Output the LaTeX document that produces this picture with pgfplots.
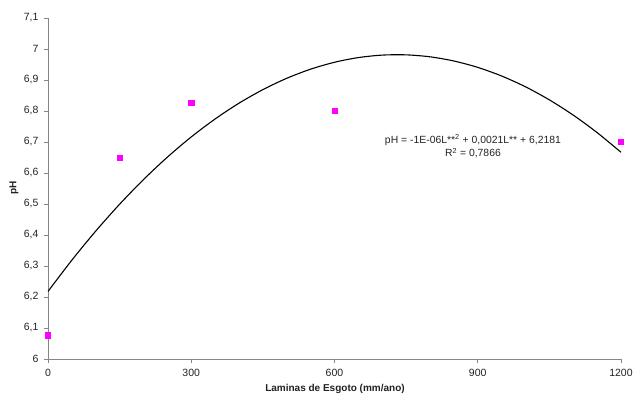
\documentclass[border=0pt]{standalone}
\usepackage{pgfplots}
\pgfplotsset{compat=1.18}
\usepackage{fontspec}
\setmainfont{Liberation Sans}
\definecolor{axgray}{HTML}{868686}
\definecolor{txt}{HTML}{222222}
\definecolor{mag}{RGB}{255,0,255}
\begin{document}
\begin{tikzpicture}[x=1pt,y=1pt]
\useasboundingbox (0,0) rectangle (633,396);
\begin{axis}[
  at={(48pt,37pt)}, anchor=origin,
  scale only axis, width=573pt, height=341pt,
  xmin=0, xmax=1200, ymin=6, ymax=7.1,
  axis x line=bottom, axis y line=left,
  axis line style={-, draw=axgray, line width=0.9pt},
  xtick={0,300,600,900,1200},
  ytick={6,6.1,6.2,6.3,6.4,6.5,6.6,6.7,6.8,6.9,7,7.1},
  yticklabels={6,{6,1},{6,2},{6,3},{6,4},{6,5},{6,6},{6,7},{6,8},{6,9},7,{7,1}},
  /pgf/number format/assume math mode=true,
  /pgf/number format/1000 sep={},
  tick style={draw=axgray, line width=0.8pt},
  tick align=outside, major tick length=4pt,
  ticklabel style={font=\fontsize{10.5}{12}\selectfont, text=txt},
  xticklabel style={yshift=-3pt},
  yticklabel style={xshift=-2pt},
  clip=false,
]
\addplot[black, line width=1.1pt, smooth] coordinates {
(0,6.2180) (50,6.3189) (100,6.4127) (150,6.4993) (200,6.5788) (250,6.6511)
(300,6.7163) (350,6.7743) (400,6.8252) (450,6.8689) (500,6.9055) (550,6.9349)
(600,6.9572) (650,6.9723) (700,6.9803) (750,6.9811) (800,6.9748) (850,6.9613)
(900,6.9407) (950,6.9129) (1000,6.8780) (1050,6.8359) (1100,6.7867) (1150,6.7303)
(1200,6.6668)};
\addplot[only marks, mark=square*, mark size=2.6pt, mark options={fill=mag, draw=mag}] coordinates {
(0,6.077) (150,6.65) (300,6.826) (600,6.80) (1200,6.70)};
\node[font=\fontsize{10.4}{12}\selectfont, text=txt] at (axis cs:890,6.706) {pH = -1E-06L**\textsuperscript{2} + 0,0021L** + 6,2181};
\node[font=\fontsize{10.4}{12}\selectfont, text=txt] at (axis cs:890,6.664) {R\textsuperscript{2} = 0,7866};
\end{axis}
\node[rotate=90, font=\bfseries\fontsize{10}{12}\selectfont, text=txt] at (14,208) {pH};
\node[font=\bfseries\fontsize{10}{12}\selectfont, text=txt] at (335,7) {Laminas de Esgoto (mm/ano)};
\end{tikzpicture}
\end{document}
